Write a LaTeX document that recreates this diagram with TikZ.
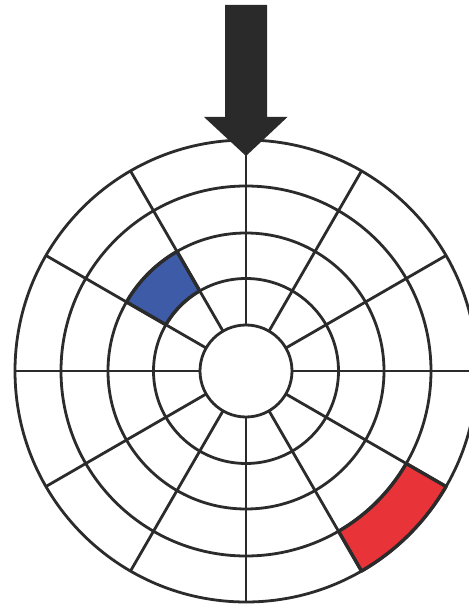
\documentclass[tikz,border=0pt]{standalone}
\definecolor{lineclr}{HTML}{2B2B2B}
\definecolor{blueclr}{HTML}{3D5BA6}
\definecolor{redclr}{HTML}{E83338}
\definecolor{arrowclr}{HTML}{2A2A2A}
\begin{document}
\begin{tikzpicture}[x=1pt,y=1pt,
  gridline/.style={draw=lineclr, line width=2.8pt},
  cellborder/.style={draw=lineclr, line width=3.4pt, line join=round},
  bluecell/.style={fill=blueclr},
  redcell/.style={fill=redclr},
  bigarrow/.style={fill=arrowclr}]
\useasboundingbox (0,0) rectangle (469,606);
\fill[white] (0,0) rectangle (469,606);
\coordinate (c) at (246,235);
% coloured cells
\path[bluecell] ([shift={(120:92.5)}]c) arc[start angle=120,end angle=150,radius=92.5]
  -- ([shift={(150:138)}]c) arc[start angle=150,end angle=120,radius=138] -- cycle;
\path[redcell] ([shift={(-60:185)}]c) arc[start angle=-60,end angle=-30,radius=185]
  -- ([shift={(-30:231)}]c) arc[start angle=-30,end angle=-60,radius=231] -- cycle;
% grid
\foreach \r in {46,92.5,138,185,231}
  \draw[gridline] (c) circle[radius=\r];
\foreach \a in {0,30,...,330}
  \draw[gridline] ([shift={(\a:46)}]c) -- ([shift={(\a:231)}]c);
% cell borders
\draw[cellborder] ([shift={(120:92.5)}]c) arc[start angle=120,end angle=150,radius=92.5]
  -- ([shift={(150:138)}]c) arc[start angle=150,end angle=120,radius=138] -- cycle;
\draw[cellborder] ([shift={(-60:185)}]c) arc[start angle=-60,end angle=-30,radius=185]
  -- ([shift={(-30:231)}]c) arc[start angle=-30,end angle=-60,radius=231] -- cycle;
% arrow
\fill[bigarrow] (225,601) -- (267,601) -- (267,489) -- (287.5,489) -- (246,450)
  -- (204,489) -- (225,489) -- cycle;
\end{tikzpicture}
\end{document}
